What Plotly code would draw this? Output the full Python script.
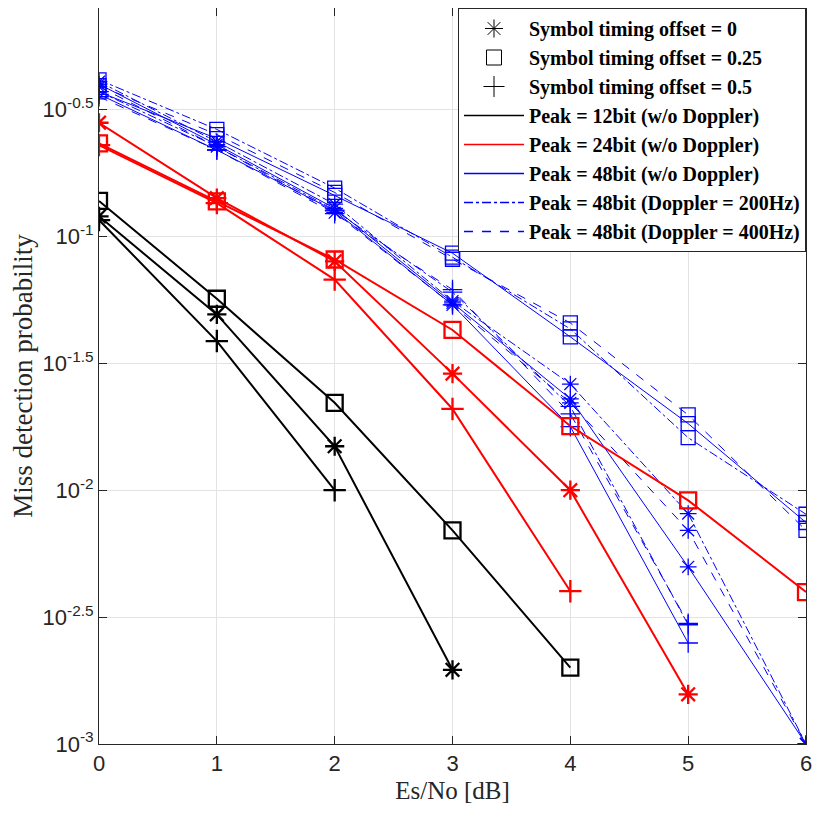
import plotly.graph_objects as go

esno = [0, 1, 2, 3, 4, 5, 6]

# Peak = 12bit (w/o Doppler)
p12_off0 = [0.120, 0.0493, 0.0149, 0.00196]
p12_off025 = [0.138, 0.0568, 0.0221, 0.00695, 0.00200]
p12_off05 = [0.116, 0.0387, 0.0100]

# Peak = 24bit (w/o Doppler)
p24_off0 = [0.2805, 0.1415, 0.0798, 0.0288, 0.0100, 0.00157]
p24_off025 = [0.2328, 0.1374, 0.0811, 0.0428, 0.0179, 0.00912, 0.00397]
p24_off05 = [0.2291, 0.1352, 0.0676, 0.0209, 0.0040]

# Peak = 48bit (w/o Doppler)
p48_off0 = [0.398, 0.230, 0.129, 0.0547, 0.0229, 0.00499, 0.001]
p48_off025 = [0.371, 0.243, 0.145, 0.0859, 0.0402, 0.0183, 0.00746]
p48_off05 = [0.363, 0.219, 0.126, 0.0537, 0.0178, 0.0025]

# Peak = 48bit (Doppler = 200Hz)
d200_off0 = [0.407, 0.236, 0.134, 0.0556, 0.0262, 0.00809, 0.001]
d200_off025 = [0.414, 0.264, 0.155, 0.0828, 0.0432, 0.0161, 0.00804]
d200_off05 = [0.372, 0.226, 0.127, 0.0603, 0.0214, 0.00295]

# Peak = 48bit (Doppler = 400Hz)
d400_off0 = [0.389, 0.226, 0.124, 0.0537, 0.0221, 0.00695, 0.001]
d400_off025 = [0.393, 0.252, 0.149, 0.0813, 0.0456, 0.0198, 0.00695]
d400_off05 = [0.355, 0.219, 0.123, 0.0617, 0.0200, 0.00299]

ytick_vals = [1e-3, 10**-2.5, 1e-2, 10**-1.5, 1e-1, 10**-0.5]
ytick_text = ["10<sup>-3</sup>", "10<sup>-2.5</sup>", "10<sup>-2</sup>",
              "10<sup>-1.5</sup>", "10<sup>-1</sup>", "10<sup>-0.5</sup>"]

SYM = {"star": "asterisk-open", "sq": "square-open", "plus": "cross-thin-open"}

fig = go.Figure()


def add(vals, color, dash, sym, lw, ms):
    fig.add_trace(go.Scatter(
        x=esno[:len(vals)], y=vals, mode="lines+markers",
        line=dict(color=color, width=lw, dash=dash),
        marker=dict(symbol=SYM[sym], size=ms, color=color,
                    line=dict(color=color, width=lw + 0.3)),
        showlegend=False))


# blue first so black/red sit on top
for vals, sym in [(d400_off0, "star"), (d400_off025, "sq"), (d400_off05, "plus")]:
    add(vals, "#0000ff", "dash", sym, 1, 14)
for vals, sym in [(d200_off0, "star"), (d200_off025, "sq"), (d200_off05, "plus")]:
    add(vals, "#0000ff", "dashdot", sym, 1, 14)
for vals, sym in [(p48_off0, "star"), (p48_off025, "sq"), (p48_off05, "plus")]:
    add(vals, "#0000ff", "solid", sym, 1, 14)
for vals, sym in [(p24_off0, "star"), (p24_off025, "sq"), (p24_off05, "plus")]:
    add(vals, "#ff0000", "solid", sym, 2, 16)
for vals, sym in [(p12_off0, "star"), (p12_off025, "sq"), (p12_off05, "plus")]:
    add(vals, "#000000", "solid", sym, 2, 16)

# legend entries
legend_markers = [("Symbol timing offset = 0", "star"),
                  ("Symbol timing offset = 0.25", "sq"),
                  ("Symbol timing offset = 0.5", "plus")]
for i, (name, sym) in enumerate(legend_markers):
    fig.add_trace(go.Scatter(
        x=[None], y=[None], mode="markers", name=name, legendgroup=f"g{i}",
        marker=dict(symbol=SYM[sym], size=15, color="black",
                    line=dict(color="black", width=1))))

legend_lines = [("Peak = 12bit (w/o Doppler)", "#000000", "solid"),
                ("Peak = 24bit (w/o Doppler)", "#ff0000", "solid"),
                ("Peak = 48bit (w/o Doppler)", "#0000ff", "solid"),
                ("Peak = 48bit (Doppler = 200Hz)", "#0000ff", "dashdot"),
                ("Peak = 48bit (Doppler = 400Hz)", "#0000ff", "dash")]
for i, (name, color, dash) in enumerate(legend_lines):
    fig.add_trace(go.Scatter(
        x=[None], y=[None], mode="lines", name=name, legendgroup=f"h{i}",
        line=dict(color=color, width=1.5, dash=dash)))

axis_common = dict(
    showline=True, linecolor="#262626", linewidth=1, mirror="ticks",
    ticks="inside", ticklen=8, tickcolor="#262626",
    showgrid=True, gridcolor="#e3e3e3", gridwidth=1, zeroline=False,
    tickfont=dict(family="Liberation Sans, Arial", size=22, color="#262626"),
)

fig.update_xaxes(**axis_common, range=[0, 6], tickvals=esno,
                 title=dict(text="Es/No [dB]", standoff=6,
                            font=dict(family="Liberation Serif, Times New Roman",
                                      size=25, color="#262626")))
fig.update_yaxes(**axis_common, type="log", range=[-3, -0.1],
                 tickvals=ytick_vals, ticktext=ytick_text,
                 title=dict(text="Miss detection probability", standoff=8,
                            font=dict(family="Liberation Serif, Times New Roman",
                                      size=27, color="#262626")))

fig.update_layout(
    width=815, height=814,
    margin=dict(l=91, r=17, t=0, b=78),
    paper_bgcolor="white", plot_bgcolor="white",
    legend=dict(x=1, xanchor="right", y=1, yanchor="top",
                bgcolor="white", bordercolor="#262626", borderwidth=1,
                font=dict(family="Liberation Serif, Times New Roman", size=20,
                          color="black", weight="bold"),
                itemwidth=60,
                traceorder="grouped", tracegroupgap=0),
)

fig.write_html("out.html")
